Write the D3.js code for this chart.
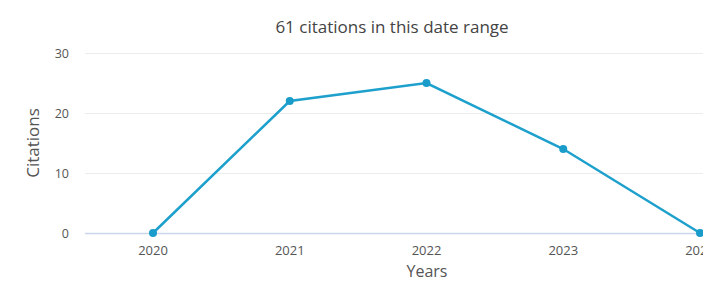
<!DOCTYPE html>
<html>
<head>
<meta charset="utf-8">
<script src="https://cdn.jsdelivr.net/npm/d3@7"></script>
<style>
  body { margin: 0; background: #fff; }
  text { font-family: "Open Sans", sans-serif; }
</style>
</head>
<body>
<div id="chart"></div>
<script>
// citations per year
const years = ["2020", "2021", "2022", "2023", "2024"];
const citations = [0, 22, 25, 14, 0];
const yTicks = [0, 10, 20, 30];

const W = 703, H = 282;
const plotLeft = 85, plotRight = 703, plotTop = 53, plotBottom = 233;

const svg = d3.select("#chart").append("svg")
    .attr("width", W)
    .attr("height", H);

// x positions, 2020 at 153 and step ~137
const x = d3.scalePoint()
    .domain(years)
    .range([153, 700]);

const y = d3.scaleLinear()
    .domain([0, 30])
    .range([plotBottom, plotTop]);

// grid lines
svg.append("g")
    .selectAll("line")
    .data(yTicks)
    .join("line")
    .attr("x1", plotLeft)
    .attr("x2", plotRight)
    .attr("y1", d => y(d) + 0.5)
    .attr("y2", d => y(d) + 0.5)
    .attr("stroke", d => d === 0 ? "#ccd6eb" : "#ececec")
    .attr("stroke-width", d => d === 0 ? 1.5 : 1);

// y tick labels
svg.append("g")
    .selectAll("text")
    .data(yTicks)
    .join("text")
    .attr("x", 69)
    .attr("y", d => y(d) + 4.5)
    .attr("text-anchor", "end")
    .attr("font-size", 12.5)
    .attr("fill", "#555")
    .text(d => d);

// x tick labels
svg.append("g")
    .selectAll("text")
    .data(years)
    .join("text")
    .attr("x", d => x(d))
    .attr("y", 255)
    .attr("text-anchor", "middle")
    .attr("font-size", 13)
    .attr("fill", "#555")
    .text(d => d);

// titles
svg.append("text")
    .attr("x", 392)
    .attr("y", 33)
    .attr("text-anchor", "middle")
    .attr("font-size", 17)
    .attr("fill", "#444")
    .text("61 citations in this date range");

svg.append("text")
    .attr("transform", "translate(39,143) rotate(-90)")
    .attr("text-anchor", "middle")
    .attr("font-size", 17)
    .attr("fill", "#555")
    .text("Citations");

svg.append("text")
    .attr("x", 427)
    .attr("y", 277)
    .attr("text-anchor", "middle")
    .attr("font-size", 16)
    .attr("fill", "#555")
    .text("Years");

// line and markers
const pts = years.map((yr, i) => ({ yr, v: citations[i] }));

svg.append("path")
    .datum(pts)
    .attr("fill", "none")
    .attr("stroke", "#1ea0cd")
    .attr("stroke-width", 2.5)
    .attr("d", d3.line().x(d => x(d.yr)).y(d => y(d.v)));

svg.append("g")
    .selectAll("circle")
    .data(pts)
    .join("circle")
    .attr("cx", d => x(d.yr))
    .attr("cy", d => y(d.v))
    .attr("r", 4)
    .attr("fill", "#1a9ccb");
</script>
</body>
</html>
